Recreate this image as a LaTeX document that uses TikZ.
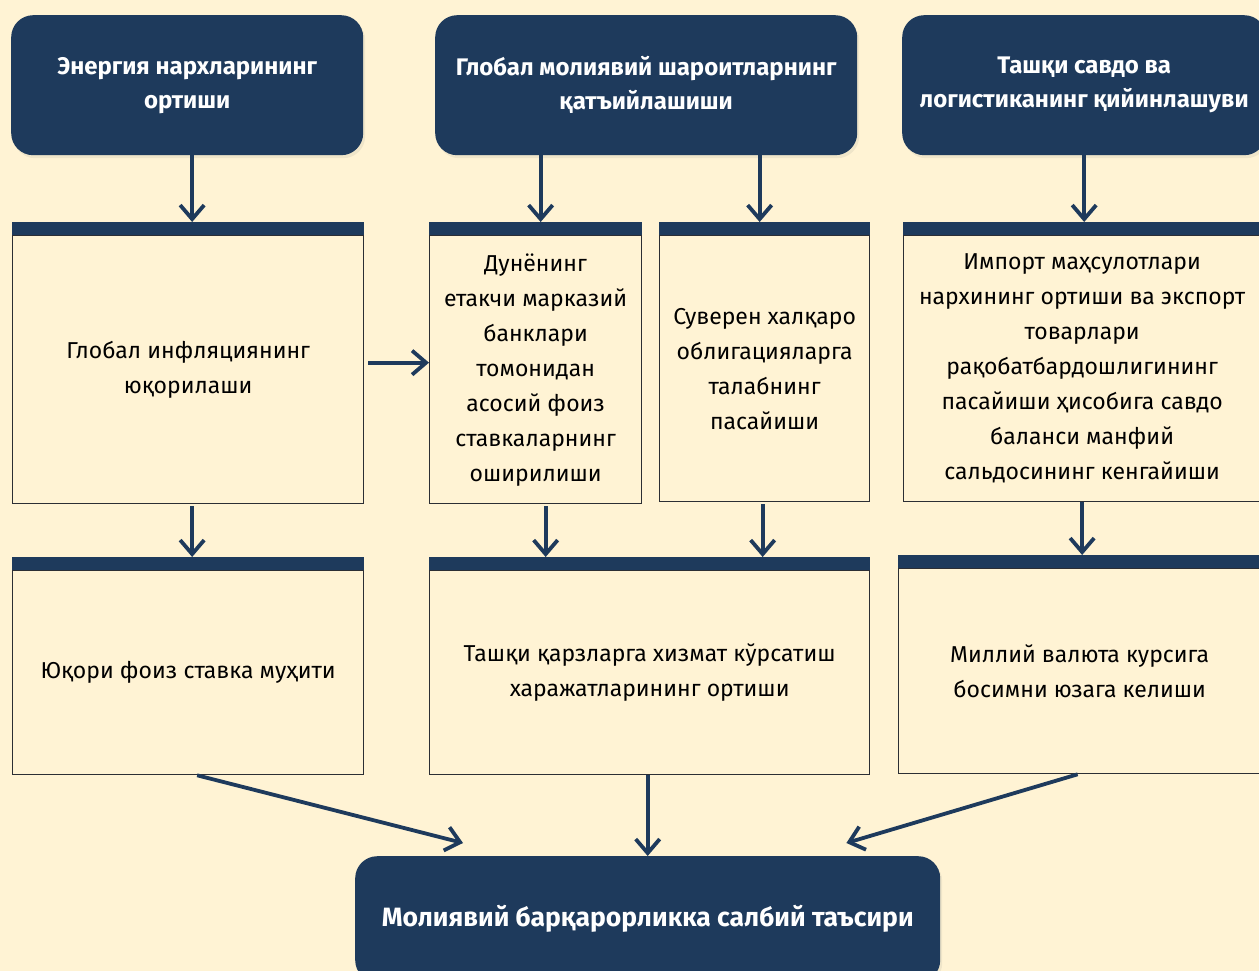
\documentclass[tikz,border=0pt]{standalone}
\usepackage{fontspec}
\setmainfont{Fira Sans}
\usetikzlibrary{arrows.meta,shadows,positioning}
\definecolor{bgclr}{RGB}{255,243,212}
\definecolor{navy}{RGB}{30,58,92}
\definecolor{edgeclr}{RGB}{44,46,52}
\tikzset{
  %% dark header block (rounded)
  hblk/.style={rectangle,rounded corners=22pt,fill=navy,text=white,
    font=\fontsize{24}{34}\selectfont\bfseries,align=center,inner sep=0pt,
    drop shadow={opacity=0.12,shadow xshift=2pt,shadow yshift=-3pt}},
  %% light block, bar added on top
  cblk/.style={rectangle,draw=edgeclr,line width=1.3pt,fill=bgclr,
    font=\fontsize{23}{35}\selectfont,align=center,text=black,inner sep=0pt},
  %% arrows
  arr/.style={-{Straight Barb[length=14pt,width=24pt]},line width=3.8pt,color=navy},
}

\begin{document}
\begin{tikzpicture}[x=1pt,y=-1pt]

  \useasboundingbox (0,0) rectangle (1259,971);
  \clip (0,0) rectangle (1259,971);
  \fill[bgclr] (0,0) rectangle (1259,971);

  %% Top row (header blocks)
  \node[hblk,anchor=north west,minimum width=352pt,minimum height=140pt] (enr)
    at (11,15) {Энергия нархларининг\\ортиши};
  \node[hblk,anchor=north west,minimum width=422pt,minimum height=140pt] (glob)
    at (435,15) {Глобал молиявий шароитларнинг\\қатъийлашиши};
  \node[hblk,anchor=north west,minimum width=364pt,minimum height=140pt] (trade)
    at (902,15) {Ташқи савдо ва\\логистиканинг қийинлашуви};

  %% Middle row (white part only, bar goes above)
  \node[cblk,anchor=north west,minimum width=351pt,minimum height=268pt] (infl)
    at (12,235) {Глобал инфляциянинг\\юқорилаши};
  \node[cblk,anchor=north west,minimum width=212pt,minimum height=268pt] (rate)
    at (429,235) {Дунёнинг\\етакчи марказий\\банклари\\томонидан\\асосий фоиз\\ставкаларнинг\\оширилиши};
  \node[cblk,anchor=north west,minimum width=210pt,minimum height=266pt] (bond)
    at (659,235) {Суверен халқаро\\облигацияларга\\талабнинг\\пасайиши};
  \node[cblk,anchor=north west,minimum width=357pt,minimum height=266pt] (imp)
    at (903,235) {Импорт маҳсулотлари\\нархининг ортиши ва экспорт\\товарлари\\рақобатбардошлигининг\\пасайиши ҳисобига савдо\\баланси манфий\\сальдосининг кенгайиши};

  %% Bottom row
  \node[cblk,anchor=north west,minimum width=351pt,minimum height=204pt] (high)
    at (12,570) {Юқори фоиз ставка муҳити};
  \node[cblk,anchor=north west,minimum width=440pt,minimum height=204pt] (debt)
    at (429,570) {Ташқи қарзларга хизмат кўрсатиш\\харажатларининг ортиши};
  \node[cblk,anchor=north west,minimum width=362pt,minimum height=205pt] (curr)
    at (898,568) {Миллий валюта курсига\\босимни юзага келиши};

  %% top bars of light blocks
  \foreach \n in {infl,rate,bond,imp,high,debt,curr}{
    \fill[navy] ([yshift=13pt]\n.north west) rectangle (\n.north east);
    \coordinate (\n-top) at ([yshift=13pt]\n.north);
  }

  %% Result block
  \node[hblk,anchor=north west,minimum width=585pt,minimum height=126pt,
    font=\fontsize{26.5}{34}\selectfont\bfseries] (fin)
    at (355,856) {Молиявий барқарорликка салбий таъсири};

  %% Top -> middle
  \draw[arr] ([xshift=4pt]enr.south -| infl-top) -- ([xshift=4pt]infl-top);
  \draw[arr] ([xshift=5pt]glob.south -| rate-top) -- ([xshift=5pt]rate-top);
  \draw[arr] ([xshift=-5pt]glob.south -| bond-top) -- ([xshift=-5pt]bond-top);
  \draw[arr] (trade.south) -- (trade.south |- imp-top);

  %% Middle -> middle
  \draw[arr,shorten <=4pt] ([yshift=7pt]infl.east) -- ([yshift=7pt]rate.west);

  %% Middle -> bottom
  \draw[arr,shorten <=2pt] ([xshift=4pt]infl.south) -- ([xshift=4pt]high-top);
  \draw[arr,shorten <=2pt] ([xshift=10pt]rate.south) -- ([xshift=10pt]rate.south |- debt-top);
  \draw[arr,shorten <=2pt] ([xshift=-2pt]bond.south) -- ([xshift=-2pt]bond.south |- debt-top);
  \draw[arr] (imp.south) -- (imp.south |- curr-top);

  %% Bottom -> result
  \draw[arr] ([xshift=9pt]high.south) -- ([shift={(108,-13)}]fin.north west);
  \draw[arr] (debt.south -| fin) -- (fin.north);
  \draw[arr] ([xshift=-2pt]curr.south) -- ([shift={(-94,-13)}]fin.north east);

\end{tikzpicture}
\end{document}
